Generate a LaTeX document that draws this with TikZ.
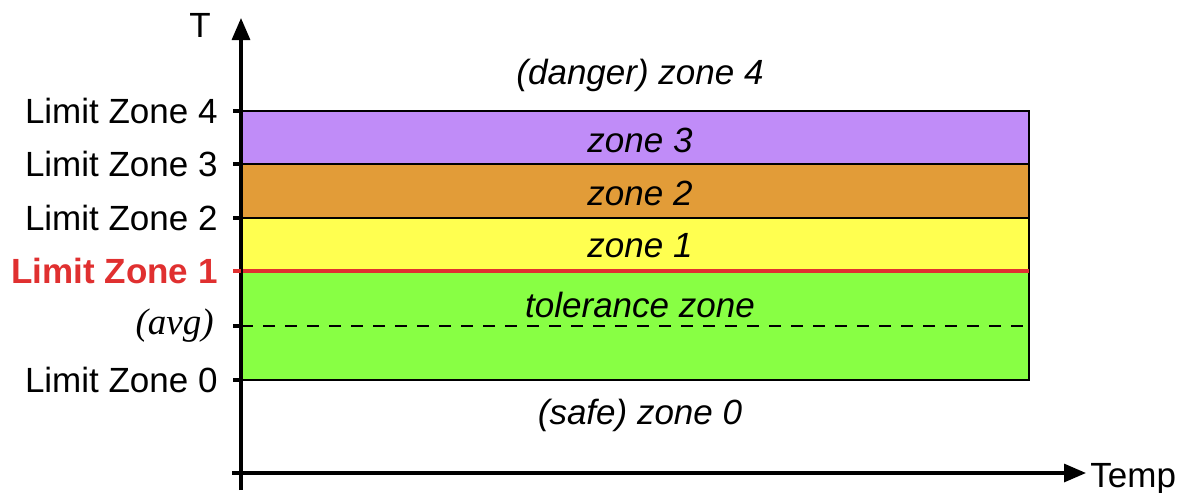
\documentclass[tikz,border=0pt]{standalone}
\usepackage{fontspec}
\setmainfont{Liberation Sans}
\newfontfamily\serifit{Liberation Serif}
\usetikzlibrary{arrows.meta}
\definecolor{zpurple}{HTML}{C08CF8}
\definecolor{zorange}{HTML}{E29C38}
\definecolor{zyellow}{HTML}{FFFF50}
\definecolor{zgreen}{HTML}{88FF44}
\definecolor{zred}{HTML}{E03030}
\tikzset{
  lbl/.style={anchor=east, inner sep=0pt, font=\fontsize{17.5}{20}\selectfont},
  zlbl/.style={inner sep=0pt, font=\fontsize{17.5}{20}\selectfont\itshape},
  zonebox/.style={draw=black, line width=0.8pt},
  axis/.style={line width=1.6pt, -{Triangle[length=11pt,width=9pt]}},
  tick/.style={line width=1.6pt}
}
\begin{document}
\begin{tikzpicture}[x=0.5pt,y=-0.5pt]
\useasboundingbox (0,0) rectangle (1190,493);
% zones
\path[zonebox, fill=zpurple] (241,111) rectangle (1029,164);
\path[zonebox, fill=zorange] (241,164) rectangle (1029,218);
\path[zonebox, fill=zyellow] (241,218) rectangle (1029,271);
\path[zonebox, fill=zgreen] (241,271) rectangle (1029,380);
\draw[dashed, line width=0.6pt, dash pattern=on 6pt off 5pt] (241,326) -- (1029,326);
\draw[zred, line width=2pt] (241,271) -- (1029,271);
% axes
\coordinate (ybot) at (241,490);
\coordinate (ytop) at (241,18);
\coordinate (xl) at (232,473);
\coordinate (xr) at (1086,473);
\draw[axis] (ybot) -- (ytop);
\draw[axis] (xl) -- (xr);
% ticks
\foreach \yy in {111,164,218,326,380} \draw[tick] (233,\yy) -- (241,\yy);
\draw[tick, zred] (233,271) -- (241,271);
% axis labels
\node[inner sep=0pt, font=\fontsize{17.5}{20}\selectfont] (T) at (200,25) {T};
\node[inner sep=0pt, anchor=west, font=\fontsize{17.5}{20}\selectfont] (temp) at (1090,479) {Temp};
% limit labels
\node[lbl] (l4) at (218,111) {Limit Zone 4};
\node[lbl] (l3) at (218,164) {Limit Zone 3};
\node[lbl] (l2) at (218,218) {Limit Zone 2};
\node[lbl, text=zred, font=\fontsize{17.5}{20}\selectfont\bfseries] (l1) at (218,271) {Limit Zone 1};
\node[lbl, font=\fontsize{18.5}{20}\serifit\itshape] (avg) at (214,326) {(avg)};
\node[lbl] (l0) at (218,380) {Limit Zone 0};
% zone labels
\node[zlbl] (z4) at (640,75) {(danger) zone 4};
\node[zlbl] (z3) at (640,140) {zone 3};
\node[zlbl] (z2) at (640,193) {zone 2};
\node[zlbl] (z1) at (640,246) {zone 1};
\node[zlbl] (ztol) at (640,305) {tolerance zone};
\node[zlbl] (z0) at (640,415) {(safe) zone 0};
\end{tikzpicture}
\end{document}
